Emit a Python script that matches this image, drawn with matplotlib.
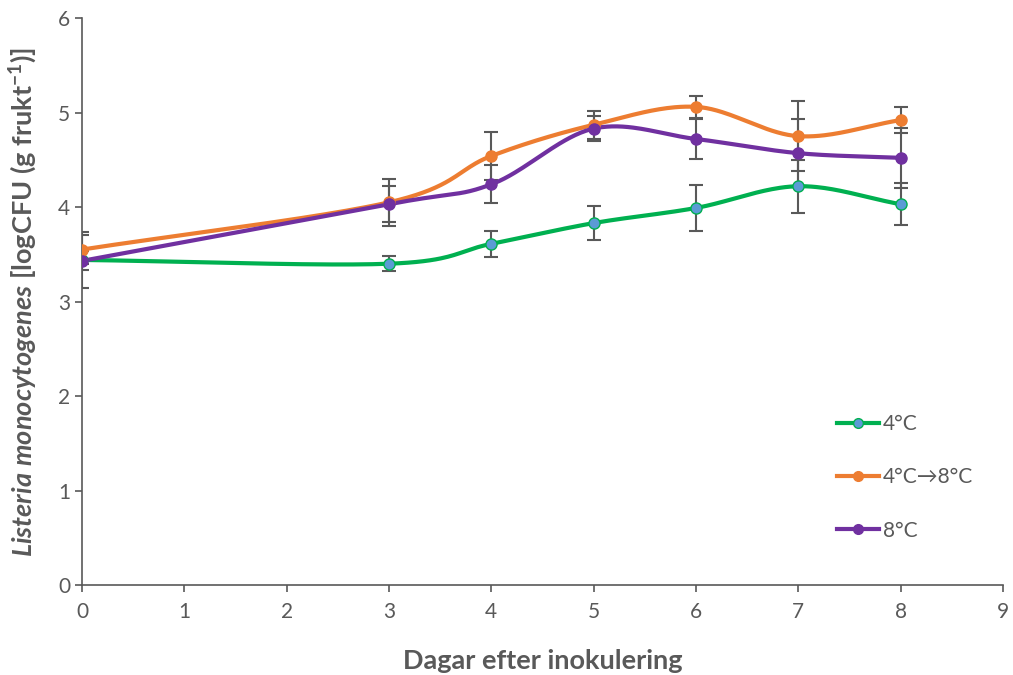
import numpy as np
import matplotlib
matplotlib.use("Agg")
import matplotlib.pyplot as plt

# Data
days = [0, 3, 4, 5, 6, 7, 8]
temp_4 = [3.44, 3.40, 3.61, 3.83, 3.99, 4.22, 4.03]
temp_4_err = [0.30, 0.08, 0.14, 0.18, 0.24, 0.28, 0.22]
temp_4_8 = [3.55, 4.05, 4.54, 4.87, 5.06, 4.75, 4.92]
temp_4_8_err = [0.15, 0.25, 0.25, 0.15, 0.12, 0.37, 0.14]
temp_8 = [3.43, 4.03, 4.24, 4.83, 4.72, 4.57, 4.52]
temp_8_err = [0.10, 0.19, 0.20, 0.13, 0.21, 0.36, 0.32]
labels = ["4°C", "4°C→8°C", "8°C"]

plt.rcParams['font.family'] = ['Lato', 'DejaVu Sans']
plt.rcParams['mathtext.fontset'] = 'custom'
plt.rcParams['mathtext.it'] = 'Lato:bold:italic'
plt.rcParams['mathtext.rm'] = 'Lato:bold'
plt.rcParams['mathtext.bf'] = 'Lato:bold'

GRAY = '#595959'


# Excel-style smoothed line (Catmull-Rom through the points)
def smooth(x, y, n=40):
    x = np.asarray(x, float)
    y = np.asarray(y, float)
    px = np.concatenate([[2 * x[0] - x[1]], x, [2 * x[-1] - x[-2]]])
    py = np.concatenate([[2 * y[0] - y[1]], y, [2 * y[-1] - y[-2]]])
    xs, ys = [], []
    for i in range(1, len(px) - 2):
        p0, p1, p2, p3 = (np.array([px[j], py[j]]) for j in range(i - 1, i + 3))
        c1 = p1 + (p2 - p0) / 6
        c2 = p2 - (p3 - p1) / 6
        t = np.linspace(0, 1, n)[:, None]
        pts = (1 - t) ** 3 * p1 + 3 * (1 - t) ** 2 * t * c1 + 3 * (1 - t) * t ** 2 * c2 + t ** 3 * p2
        xs.extend(pts[:, 0])
        ys.extend(pts[:, 1])
    return xs, ys


fig = plt.figure(figsize=(10.13, 6.75), dpi=100)
ax = fig.add_axes([0.081, 0.1333, 0.909, 0.84])

series = [
    (temp_4, temp_4_err, '#00B050', '#5B9BD5', labels[0]),
    (temp_4_8, temp_4_8_err, '#ED7D31', '#ED7D31', labels[1]),
    (temp_8, temp_8_err, '#7030A0', '#7030A0', labels[2]),
]

for vals, errs, col, face, lab in series:
    ax.errorbar(days, vals, yerr=errs, fmt='none', ecolor=GRAY, elinewidth=1.5,
                capsize=5, capthick=1.5, zorder=2)
for vals, errs, col, face, lab in series:
    sx, sy = smooth(days, vals)
    ax.plot(sx, sy, color=col, lw=3, zorder=3, solid_capstyle='round')
    ax.plot(days, vals, 'o', color=col, mfc=face, mec=col, ms=8, mew=1, zorder=4)
    ax.plot([], [], '-o', color=col, mfc=face, mec=col, ms=7, mew=1, lw=3, label=lab)

ax.set_xlim(0, 9)
ax.set_ylim(0, 6)
ax.set_xticks(range(0, 10))
ax.set_yticks(range(0, 7))
for s in ['top', 'right']:
    ax.spines[s].set_visible(False)
for s in ['left', 'bottom']:
    ax.spines[s].set_color(GRAY)
    ax.spines[s].set_linewidth(1.2)
ax.tick_params(colors=GRAY, labelsize=15, length=5, width=1.2, direction='out')
ax.tick_params(axis='x', pad=7)

ax.set_xlabel("Dagar efter inokulering", fontsize=19.5, fontweight='bold', color=GRAY, labelpad=20)
ax.set_ylabel(r"$\mathit{Listeria\ monocytogenes}$ [logCFU (g frukt$^{-1}$)]",
              fontsize=19.5, fontweight='bold', color=GRAY, labelpad=14)

leg = ax.legend(loc='lower right', bbox_to_anchor=(0.988, 0.045), frameon=False, fontsize=15,
                labelspacing=1.6, handlelength=2.0, handletextpad=0.2, labelcolor=GRAY)

fig.savefig("out.png", dpi=100)
